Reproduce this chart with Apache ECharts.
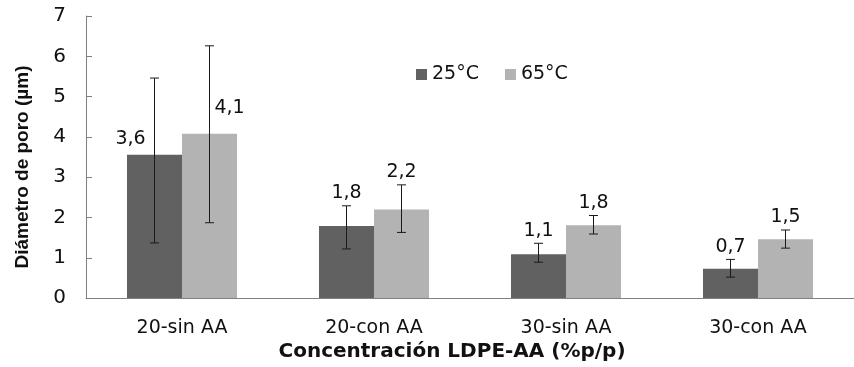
<!DOCTYPE html>
<html>
<head>
<meta charset="utf-8">
<script src="https://cdn.jsdelivr.net/npm/echarts@6/dist/echarts.min.js"></script>
<style>
  html, body { margin: 0; padding: 0; background: #fff; }
  #chartContainer { width: 854px; height: 367px; }
</style>
</head>
<body>
<div id="chartContainer"></div>
<script>
// Datos del gráfico
const categories = ['20-sin AA', '20-con AA', '30-sin AA', '30-con AA'];
const seriesNames = ['25°C', '65°C'];
const values25 = [3.56, 1.79, 1.09, 0.73];
const values65 = [4.08, 2.20, 1.81, 1.46];
const errPlus25 = [1.90, 0.50, 0.27, 0.23];
const errMinus25 = [2.19, 0.57, 0.20, 0.21];
const errPlus65 = [2.18, 0.61, 0.24, 0.23];
const errMinus65 = [2.21, 0.57, 0.22, 0.22];
const yTicks = [0, 1, 2, 3, 4, 5, 6, 7];

const font = 'DejaVu Sans';
const barW = 55;
// etiquetas del primer grupo movidas a mano (como en el original)
const firstLabelNudge = [[-24, -6], [20, -16]];

function fmt(v) {
  return v.toFixed(1).replace('.', ',');
}

function errorRenderer(side) {
  return function (params, api) {
    const i = api.value(0);
    const v = api.value(1);
    const base = api.coord([i, v]);
    const x = base[0] + side * barW / 2;
    const top = api.coord([i, v + api.value(2)])[1];
    const bot = api.coord([i, v - api.value(3)])[1];
    let lx = x, ly = top - 3;
    if (i === 0) {
      const n = firstLabelNudge[side < 0 ? 0 : 1];
      lx = x + n[0];
      ly = base[1] + n[1];
    }
    const lineStyle = { stroke: '#1a1a1a', lineWidth: 1 };
    return {
      type: 'group',
      children: [
        { type: 'line', shape: { x1: x, y1: top, x2: x, y2: bot }, style: lineStyle },
        { type: 'line', shape: { x1: x - 4.5, y1: top, x2: x + 4.5, y2: top }, style: lineStyle },
        { type: 'line', shape: { x1: x - 4.5, y1: bot, x2: x + 4.5, y2: bot }, style: lineStyle },
        {
          type: 'text',
          style: {
            x: lx, y: ly, text: fmt(v), align: 'center', verticalAlign: 'bottom',
            fontSize: 19, fontFamily: font, fill: '#111'
          }
        }
      ]
    };
  };
}

function errData(vals, plus, minus) {
  return vals.map((v, i) => [i, v, plus[i], minus[i]]);
}

const chart = echarts.init(document.getElementById('chartContainer'));

chart.setOption({
  animation: false,
  grid: { left: 86, top: 16, width: 779, height: 290, containLabel: false },
  legend: {
    data: seriesNames,
    left: 416,
    top: 65,
    padding: 0,
    icon: 'rect',
    itemWidth: 11,
    itemHeight: 11,
    itemGap: 26,
    textStyle: { fontSize: 19, fontFamily: font, color: '#111' }
  },
  xAxis: {
    type: 'category',
    data: categories,
    name: 'Concentración LDPE-AA (%p/p)',
    nameLocation: 'middle',
    nameGap: 40,
    nameTextStyle: { fontSize: 20, fontWeight: 'bold', fontFamily: font, color: '#111', padding: [0, 36, 0, 0] },
    axisLine: { lineStyle: { color: '#808080', width: 1 } },
    axisTick: { inside: true, length: 5, lineStyle: { color: '#808080' } },
    axisLabel: { fontSize: 19, fontFamily: font, color: '#111', margin: 20 },
    splitLine: { show: false }
  },
  yAxis: {
    type: 'value',
    min: yTicks[0],
    max: yTicks[yTicks.length - 1],
    interval: 1,
    name: 'Diámetro de poro (µm)',
    nameLocation: 'middle',
    nameGap: 54,
    nameTextStyle: { fontSize: 19, fontWeight: 'bold', fontFamily: 'Liberation Sans', color: '#111', padding: [0, 20, 0, 0] },
    axisLine: { show: true, lineStyle: { color: '#808080', width: 1 } },
    axisTick: { show: true, inside: true, length: 6, lineStyle: { color: '#808080' } },
    axisLabel: { fontSize: 20, fontFamily: font, color: '#111', margin: 20 },
    splitLine: { show: false }
  },
  series: [
    {
      name: seriesNames[0],
      type: 'bar',
      data: values25,
      barWidth: barW,
      barGap: '0%',
      itemStyle: { color: '#616161' }
    },
    {
      name: seriesNames[1],
      type: 'bar',
      data: values65,
      barWidth: barW,
      barGap: '0%',
      itemStyle: { color: '#b3b3b3' }
    },
    {
      name: 'err25',
      type: 'custom',
      renderItem: errorRenderer(-1),
      data: errData(values25, errPlus25, errMinus25),
      encode: { x: 0, y: 1 },
      z: 10
    },
    {
      name: 'err65',
      type: 'custom',
      renderItem: errorRenderer(1),
      data: errData(values65, errPlus65, errMinus65),
      encode: { x: 0, y: 1 },
      z: 10
    }
  ]
});
</script>
</body>
</html>
